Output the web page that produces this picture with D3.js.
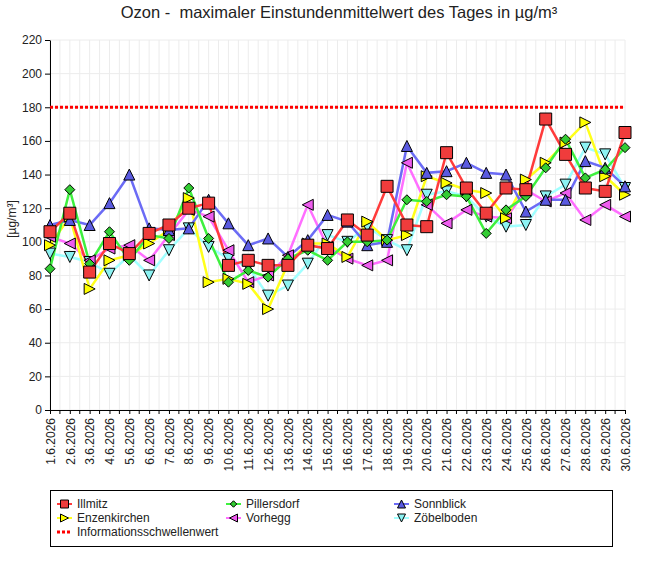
<!DOCTYPE html>
<html lang="de">
<head>
    <meta charset="UTF-8">
    <title>Ozon</title>
    <style>
        body { margin: 0; background: #fff; }
        text { font-family: "Liberation Sans", Arial, sans-serif; }
    </style>
</head>
<body>
<script src="https://cdn.jsdelivr.net/npm/d3@7"></script>
<script>
    // data
    var days = [];
    for (var d = 1; d <= 30; d++) days.push(d + ".6.2026");

    var illmitz      = [106,117,82,99,93,105,110,120,123,86,89,86,86,98,96,113,104,133,110,109,153,132,117,132,131,173,152,132,130,165];
    var pillersdorf  = [84,131,87,106,89,104,102,132,102,76,83,79,90,95,89,100,100,101,125,124,128,127,105,119,127,144,161,138,143,156];
    var sonnblick    = [110,113,110,123,140,108,107,108,125,111,98,102,91,101,116,112,98,100,157,141,142,147,141,140,118,125,125,148,144,133];
    var enzenkirchen = [98,115,72,89,92,99,107,126,76,78,75,60,87,99,99,91,112,101,104,139,135,131,129,114,137,147,159,171,139,128];
    var vorhegg      = [103,99,89,96,98,89,104,119,115,95,76,80,92,122,97,90,86,89,147,122,111,119,115,114,131,124,129,113,122,115];
    var zoebelboden  = [93,91,88,81,92,80,95,108,97,90,85,68,74,87,104,100,109,101,95,128,130,127,115,109,110,127,134,156,152,132];
    var schwelle = 180;
    var yTicks = [0,20,40,60,80,100,120,140,160,180,200,220];

    var series = [
        {name: "Illmitz",      values: illmitz,      line: "#ff3b3b", fill: "#f03c3c", sym: "square"},
        {name: "Pillersdorf",  values: pillersdorf,  line: "#3ef03e", fill: "#33cc33", sym: "diamond"},
        {name: "Sonnblick",    values: sonnblick,    line: "#6b6bf5", fill: "#5a5ae0", sym: "up"},
        {name: "Enzenkirchen", values: enzenkirchen, line: "#ffff1a", fill: "#ffff00", sym: "right"},
        {name: "Vorhegg",      values: vorhegg,      line: "#ff6eff", fill: "#ee5cee", sym: "left"},
        {name: "Zöbelboden",   values: zoebelboden,  line: "#a0ffff", fill: "#8cf2f2", sym: "down"}
    ];

    var W = 645, H = 576;
    var pL = 50, pR = 625, pT = 40, pB = 410;

    var svg = d3.select("body").append("svg")
            .attr("width", W)
            .attr("height", H);

    var x = d3.scalePoint().domain(days).range([pL, pR]);
    var xi = d3.scaleLinear().domain([0, days.length - 1]).range([pL, pR]);
    var y = d3.scaleLinear().domain([0, 220]).range([pB, pT]);

    // grid
    var half = d3.range(0, days.length - 0.5, 0.5);
    svg.append("g").selectAll("line").data(half).enter().append("line")
            .attr("x1", function(t) { return xi(t); })
            .attr("x2", function(t) { return xi(t); })
            .attr("y1", pT).attr("y2", pB)
            .style("stroke", "#ececec");
    svg.append("g").selectAll("line").data(yTicks).enter().append("line")
            .attr("x1", pL).attr("x2", pR)
            .attr("y1", function(v) { return y(v); })
            .attr("y2", function(v) { return y(v); })
            .style("stroke", "#ececec");

    // axes
    var yAxis = svg.append("g")
            .attr("transform", "translate(" + pL + ",0)")
            .call(d3.axisLeft(y).tickValues(yTicks).tickSize(5).tickSizeOuter(0));
    yAxis.selectAll("text").style("font-size", "12px").style("fill", "#222");

    var xAxis = svg.append("g")
            .attr("transform", "translate(0," + pB + ")")
            .call(d3.axisBottom(x).tickSize(4).tickSizeOuter(0));
    xAxis.selectAll("text")
            .attr("transform", "rotate(-90)")
            .attr("x", -8).attr("y", 0).attr("dy", "0.35em")
            .style("text-anchor", "end")
            .style("font-size", "12px")
            .style("fill", "#222");
    // minor ticks between days
    xAxis.selectAll(".minor").data(half.filter(function(t) { return t % 1; })).enter().append("line")
            .attr("class", "minor")
            .attr("x1", function(t) { return xi(t); })
            .attr("x2", function(t) { return xi(t); })
            .attr("y1", 0).attr("y2", 4)
            .style("stroke", "#000");
    svg.selectAll(".domain").style("stroke", "#000");

    // threshold
    svg.append("line")
            .attr("x1", pL).attr("x2", pR)
            .attr("y1", y(schwelle)).attr("y2", y(schwelle))
            .style("stroke", "#ff0000")
            .style("stroke-width", 3)
            .style("stroke-dasharray", "3,2");

    function symbolPath(sym, s) {
        var h = s / 2;
        switch (sym) {
            case "square":  return "M" + (-h) + "," + (-h) + "h" + s + "v" + s + "h" + (-s) + "Z";
            case "diamond": return "M0," + (-h) + "L" + h + ",0L0," + h + "L" + (-h) + ",0Z";
            case "up":      return "M0," + (-h) + "L" + h + "," + h + "L" + (-h) + "," + h + "Z";
            case "down":    return "M0," + h + "L" + h + "," + (-h) + "L" + (-h) + "," + (-h) + "Z";
            case "right":   return "M" + h + ",0L" + (-h) + "," + (-h) + "L" + (-h) + "," + h + "Z";
            case "left":    return "M" + (-h) + ",0L" + h + "," + (-h) + "L" + h + "," + h + "Z";
        }
    }
    var symSize = {square: 12, diamond: 10, up: 11, down: 11, right: 11, left: 11};

    var line = d3.line()
            .x(function(v, i) { return x(days[i]); })
            .y(function(v) { return y(v); });

    var drawOrder = series.slice().reverse();
    svg.append("g").selectAll("path").data(drawOrder).enter().append("path")
            .attr("d", function(s) { return line(s.values); })
            .style("fill", "none")
            .style("stroke", function(s) { return s.line; })
            .style("stroke-width", 2.5);

    drawOrder.forEach(function(s) {
        svg.append("g").selectAll("path").data(s.values).enter().append("path")
                .attr("transform", function(v, i) { return "translate(" + x(days[i]) + "," + y(v) + ")"; })
                .attr("d", symbolPath(s.sym, symSize[s.sym]))
                .style("fill", s.fill)
                .style("stroke", "#000")
                .style("stroke-width", 1);
    });

    // title and axis label
    svg.append("text")
            .attr("x", 339).attr("y", 18)
            .style("text-anchor", "middle")
            .style("font-size", "16.5px")
            .style("white-space", "pre")
            .style("fill", "#222")
            .text("Ozon -  maximaler Einstundenmittelwert des Tages in µg/m³");
    svg.append("text")
            .attr("transform", "translate(16,219) rotate(-90)")
            .style("text-anchor", "middle")
            .style("font-size", "12px")
            .style("fill", "#222")
            .text("[µg/m³]");

    // legend
    var lg = svg.append("g");
    lg.append("rect")
            .attr("x", 50.5).attr("y", 490.5)
            .attr("width", 562).attr("height", 56)
            .style("fill", "#fff").style("stroke", "#000");
    var cols = [57, 226, 394], rows = [504, 518, 532];
    var entries = series.map(function(s, i) { return {s: s, cx: cols[i % 3], cy: rows[Math.floor(i / 3)]}; });
    entries.forEach(function(e) {
        lg.append("line")
                .attr("x1", e.cx).attr("x2", e.cx + 15)
                .attr("y1", e.cy).attr("y2", e.cy)
                .style("stroke", e.s.line).style("stroke-width", 2);
        lg.append("path")
                .attr("transform", "translate(" + (e.cx + 7.5) + "," + e.cy + ")")
                .attr("d", symbolPath(e.s.sym, e.s.sym === "diamond" ? 6.5 : 8))
                .style("fill", e.s.fill).style("stroke", "#000").style("stroke-width", 1);
        lg.append("text")
                .attr("x", e.cx + 20).attr("y", e.cy).attr("dy", "0.35em")
                .style("font-size", "12px").style("fill", "#222")
                .text(e.s.name);
    });
    lg.append("line")
            .attr("x1", cols[0]).attr("x2", cols[0] + 15)
            .attr("y1", rows[2]).attr("y2", rows[2])
            .style("stroke", "#ff0000").style("stroke-width", 3)
            .style("stroke-dasharray", "3,2");
    lg.append("text")
            .attr("x", cols[0] + 20).attr("y", rows[2]).attr("dy", "0.35em")
            .style("font-size", "12px").style("fill", "#222")
            .text("Informationsschwellenwert");
</script>
</body>
</html>
